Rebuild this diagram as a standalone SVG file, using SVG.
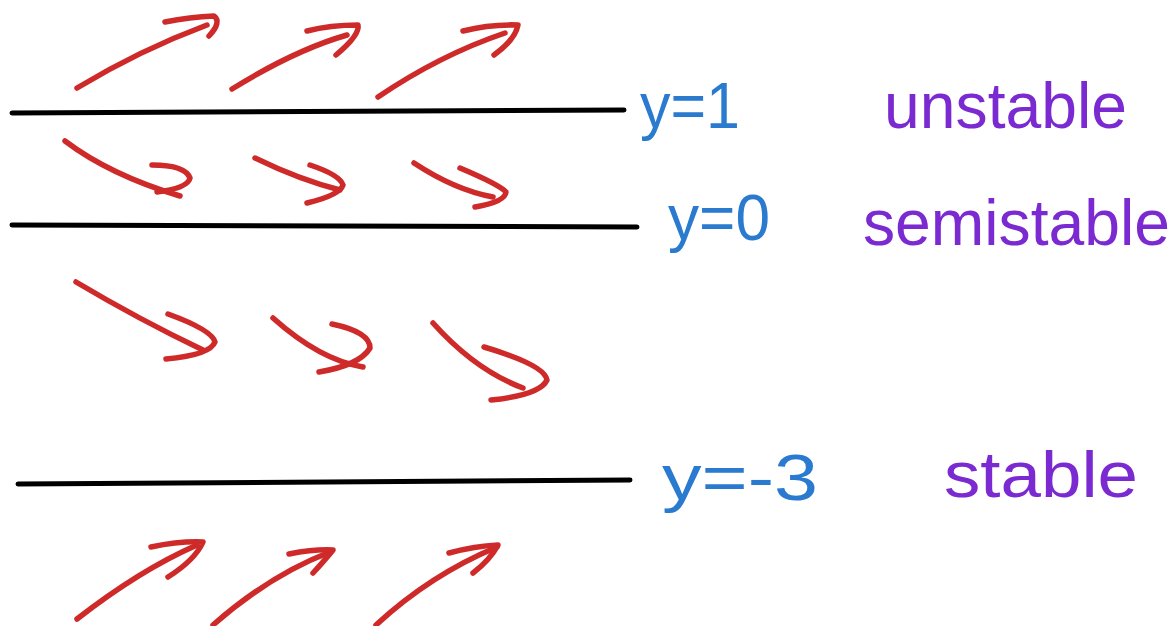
<svg xmlns="http://www.w3.org/2000/svg" width="1172" height="626" viewBox="0 0 1172 626">
<style>
.ln{stroke:#000;stroke-width:5;stroke-linecap:round;fill:none}
.ar{stroke:#cf2a2a;stroke-width:5.5;stroke-linecap:round;stroke-linejoin:round;fill:none}
.eq{font-family:"Liberation Sans",Arial,sans-serif;font-size:64px;fill:#2a7bd0}
.st{font-family:"Liberation Sans",Arial,sans-serif;font-size:64px;fill:#7a2ad0}
</style>
<rect width="1172" height="626" fill="#fff"/>
<g id="lines">
<path class="ln" d="M12,113 L624,110"/>
<path class="ln" d="M12,225 L637,227"/>
<path class="ln" d="M18,484 L630,480"/>
</g>
<g id="arrows">
<g id="row1">
<path class="ar" d="M77,88 Q140,50 207,25"/><path class="ar" d="M165,22 Q190,17 214,16 Q222,22 209,36"/>
<path class="ar" d="M232,89 Q295,50 347,35"/><path class="ar" d="M307,31 Q330,25 358,25 Q360,35 336,55"/>
<path class="ar" d="M378,97 Q440,55 505,33"/><path class="ar" d="M463,31 Q490,24 518,25 Q515,40 494,55"/>
</g>
<g id="row2">
<path class="ar" d="M65,141 Q110,175 180,196"/><path class="ar" d="M152,165 Q185,165 190,178 Q188,188 157,192"/>
<path class="ar" d="M255,158 Q300,180 340,190"/><path class="ar" d="M310,165 Q340,175 343,185 Q340,195 307,203"/>
<path class="ar" d="M414,163 Q455,190 493,197"/><path class="ar" d="M460,168 Q500,185 506,192 Q505,202 475,207"/>
</g>
<g id="row3">
<path class="ar" d="M76,282 Q140,320 203,350"/><path class="ar" d="M168,314 Q212,330 215,342 Q210,355 166,359"/>
<path class="ar" d="M273,318 Q320,360 363,367"/><path class="ar" d="M332,324 Q370,332 370,348 Q360,365 319,372"/>
<path class="ar" d="M433,323 Q475,370 523,388"/><path class="ar" d="M484,347 Q545,365 547,380 Q540,395 491,400"/>
</g>
<g id="row4">
<path class="ar" d="M77,619 Q140,570 197,545"/><path class="ar" d="M151,547 Q180,541 203,542 Q195,560 168,577"/>
<path class="ar" d="M213,625 Q270,575 330,552"/><path class="ar" d="M289,554 Q315,549 333,550 Q325,560 313,573"/>
<path class="ar" d="M376,625 Q430,575 497,547"/><path class="ar" d="M449,553 Q475,546 498,545 Q490,560 473,573"/>
</g>
</g>
<g id="label-y1"><text class="eq" x="640" y="128" textLength="100" lengthAdjust="spacingAndGlyphs">y=1</text></g>
<g id="label-y0"><text class="eq" x="668" y="240" textLength="102" lengthAdjust="spacingAndGlyphs">y=0</text></g>
<g id="label-ym3"><text class="eq" x="662" y="500" textLength="156" lengthAdjust="spacingAndGlyphs">y=-3</text></g>
<g id="label-unstable"><text class="st" x="884" y="128" textLength="243" lengthAdjust="spacingAndGlyphs">unstable</text></g>
<g id="label-semistable"><text class="st" x="863" y="245" textLength="307" lengthAdjust="spacingAndGlyphs">semistable</text></g>
<g id="label-stable"><text class="st" x="944" y="497" textLength="194" lengthAdjust="spacingAndGlyphs">stable</text></g>
</svg>
